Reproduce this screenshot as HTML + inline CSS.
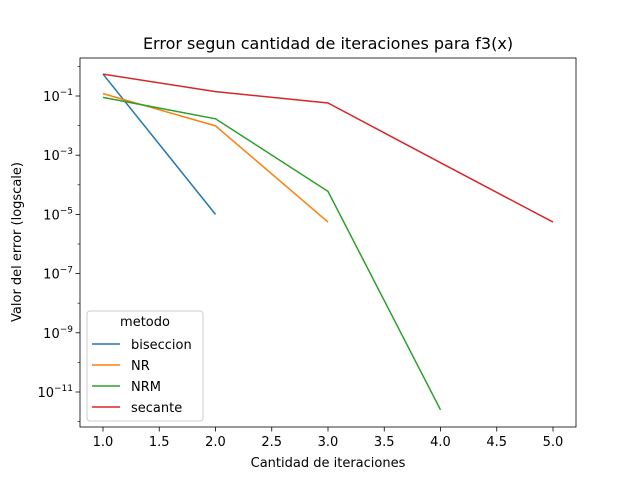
<!DOCTYPE html>
<html><head><meta charset="utf-8"><style>body{margin:0;background:#fff}svg{font-family:"DejaVu Sans","Liberation Sans",sans-serif}</style></head>
<body>
<svg id="c" width="640" height="480" xmlns="http://www.w3.org/2000/svg"></svg>
<script>
const categories=[1,2,3,4,5];
const seriesNames=["biseccion","NR","NRM","secante"];
const seriesColors=["#1f77b4","#ff7f0e","#2ca02c","#d62728"];
const biseccionX=[1,2];
const biseccionY=[0.55,1e-5];
const nrX=[1,2,3];
const nrY=[0.12,0.0098,5.5e-6];
const nrmX=[1,2,3,4];
const nrmY=[0.09,0.017,6e-5,2.5e-12];
const secanteX=[1,2,3,4,5];
const secanteY=[0.55,0.14,0.058,5.6e-4,5.5e-6];
const xTicks=[1.0,1.5,2.0,2.5,3.0,3.5,4.0,4.5,5.0];
const yTickExp=[-1,-3,-5,-7,-9,-11];
const yMinorExp=[0,-2,-4,-6,-8,-10,-12];
const L=80,R=576,T=58,B=427;
const xs=v=>103+(v-1)*112.5;
const ys=v=>96-(Math.log10(v)+1)*29.6;
const svg=document.getElementById('c');
const NS="http://www.w3.org/2000/svg";
function mk(t,a,txt){const e=document.createElementNS(NS,t);for(const k in a)e.setAttribute(k,a[k]);if(txt!==undefined)e.textContent=txt;svg.appendChild(e);return e;}
let e=mk('rect',{x:L,y:T,width:R-L,height:B-T,fill:'none',stroke:'#000','stroke-width':0.8});


xTicks.forEach(t=>{const x=xs(t);
 e=mk('line',{x1:x,x2:x,y1:B,y2:B+4.5,stroke:'#000','stroke-width':0.8});
 
 
 e=mk('text',{x:x,y:B+19,'font-size':13,'text-anchor':'middle'},t.toFixed(1));
 
 });
yTickExp.forEach(p=>{const y=ys(Math.pow(10,p));
 e=mk('line',{x1:L-4.5,x2:L,y1:y,y2:y,stroke:'#000','stroke-width':0.8});
 
 
 e=mk('text',{x:L-7,y:y+5,'font-size':13,'text-anchor':'end'});
 
 
 const a=document.createElementNS(NS,'tspan');a.textContent='10';e.appendChild(a);
 const b=document.createElementNS(NS,'tspan');b.setAttribute('font-size',9);b.setAttribute('dy',-6);b.textContent='\u2212'+(-p);e.appendChild(b);});
yMinorExp.forEach(p=>{const y=ys(Math.pow(10,p));if(y<T||y>B)return;
 e=mk('line',{x1:L-2.5,x2:L,y1:y,y2:y,stroke:'#000','stroke-width':0.6});
 
 });
const allX=[biseccionX,nrX,nrmX,secanteX],allY=[biseccionY,nrY,nrmY,secanteY];
allX.forEach((xa,i)=>{const pts=xa.map((x,j)=>xs(x)+','+ys(allY[i][j])).join(' ');
 e=mk('polyline',{points:pts,fill:'none',stroke:seriesColors[i],'stroke-width':1.5});
 
 });
e=mk('text',{x:328,y:49,'font-size':16,'text-anchor':'middle'},'Error segun cantidad de iteraciones para f3(x)');


e=mk('text',{x:328,y:467,'font-size':13,'text-anchor':'middle'},'Cantidad de iteraciones');


e=mk('text',{x:0,y:0,'font-size':13,'text-anchor':'middle',transform:'translate(21,242) rotate(-90)'},'Valor del error (logscale)');


e=mk('rect',{x:87,y:311,width:116,height:110,rx:3,fill:'#fff','fill-opacity':0.8,stroke:'#ccc','stroke-width':1});


e=mk('text',{x:145,y:326,'font-size':13,'text-anchor':'middle'},'metodo');


seriesNames.forEach((n,i)=>{const y=344+i*21;
 e=mk('line',{x1:92,x2:120,y1:y,y2:y,stroke:seriesColors[i],'stroke-width':1.5});
 
 
 e=mk('text',{x:131,y:y+5,'font-size':13},n);
 
 });
</script>
</body></html>
